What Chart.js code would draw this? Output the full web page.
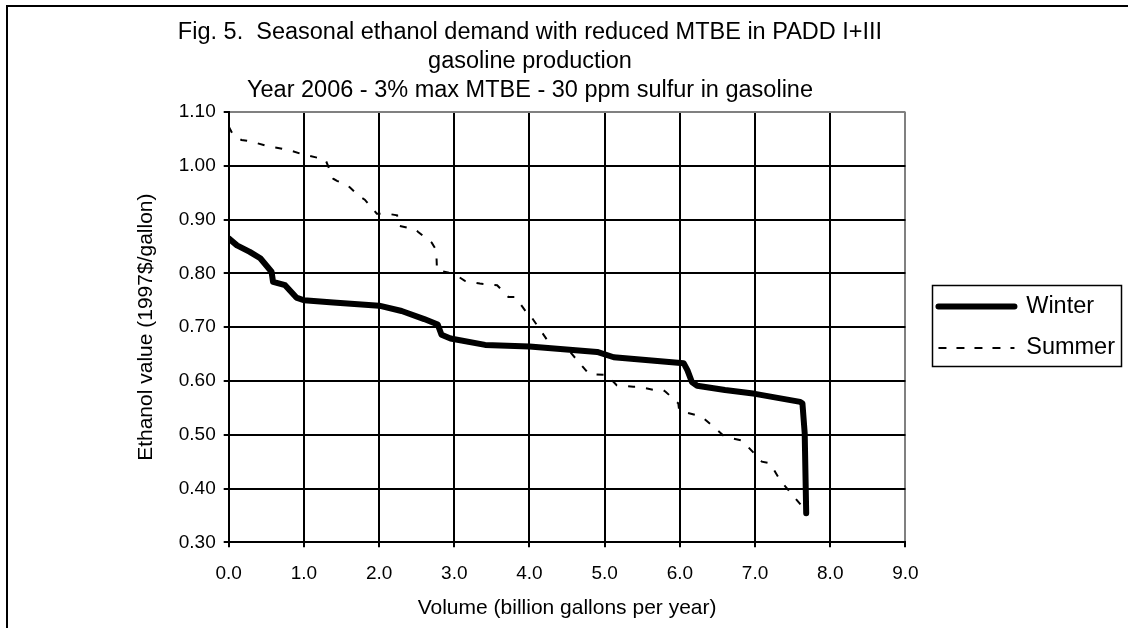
<!DOCTYPE html>
<html lang="en">
<head>
<meta charset="UTF-8">
<title>Seasonal ethanol demand with reduced MTBE</title>
<script src="https://cdn.jsdelivr.net/npm/chart.js"></script>
<style>
  html, body { margin: 0; padding: 0; background: #fff; }
  canvas { display: block; }
</style>
</head>
<body>
<canvas id="chart" width="1128" height="628"></canvas>
<script>
// values (billion gal/yr, 1997$/gal)
const winterVolume = [0, 0.11, 0.28, 0.42, 0.57, 0.59, 0.75, 0.90, 1.0, 1.39, 2.0, 2.3, 2.6, 2.78, 2.83, 2.95, 3.41, 4.0, 4.90, 5.12, 6.05, 6.10, 6.16, 6.23, 6.6, 7.0, 7.60, 7.63, 7.66, 7.68];
const winterValue  = [0.865, 0.852, 0.840, 0.828, 0.803, 0.784, 0.778, 0.755, 0.750, 0.746, 0.740, 0.730, 0.715, 0.705, 0.686, 0.679, 0.667, 0.664, 0.654, 0.644, 0.633, 0.620, 0.598, 0.591, 0.583, 0.576, 0.561, 0.558, 0.503, 0.354];

const summerVolume = [0.0, 0.06, 0.17, 0.28, 0.53, 0.62, 0.81, 0.99, 1.21, 1.28, 1.30, 1.39, 1.44, 1.57, 1.61, 1.75, 1.81, 1.97, 2.15, 2.24, 2.25, 2.40, 2.48, 2.52, 2.70, 2.76, 2.77, 2.93, 2.99, 3.14, 3.34, 3.57, 3.72, 3.81, 3.99, 4.01, 4.30, 4.54, 4.79, 5.03, 5.16, 5.38, 5.45, 5.67, 5.78, 5.81, 5.98, 5.99, 6.23, 6.32, 6.60, 6.83, 7.09, 7.20, 7.33, 7.63, 7.68];
const summerValue  = [1.073, 1.057, 1.048, 1.046, 1.036, 1.034, 1.029, 1.021, 1.014, 1.013, 1.007, 0.976, 0.972, 0.964, 0.960, 0.942, 0.937, 0.911, 0.910, 0.908, 0.889, 0.884, 0.882, 0.877, 0.857, 0.843, 0.806, 0.801, 0.800, 0.786, 0.781, 0.778, 0.756, 0.756, 0.722, 0.722, 0.663, 0.654, 0.613, 0.611, 0.592, 0.589, 0.589, 0.583, 0.583, 0.580, 0.558, 0.545, 0.536, 0.530, 0.496, 0.489, 0.450, 0.447, 0.416, 0.366, 0.355];

const xTickLabels = ['0.0', '1.0', '2.0', '3.0', '4.0', '5.0', '6.0', '7.0', '8.0', '9.0'];
const yTickLabels = ['0.30', '0.40', '0.50', '0.60', '0.70', '0.80', '0.90', '1.00', '1.10'];
const seriesNames = ['Winter', 'Summer'];
const titleLines = [
  'Fig. 5.  Seasonal ethanol demand with reduced MTBE in PADD I+III',
  'gasoline production',
  'Year 2006 - 3% max MTBE - 30 ppm sulfur in gasoline'
];
const xTitle = 'Volume (billion gallons per year)';
const yTitle = 'Ethanol value (1997$/gallon)';

const FONT = "'Liberation Sans', Arial, sans-serif";
const titleMid = 530;   // title sits left of the plot centre in the original

function toPoints(xs, ys) {
  return xs.map((x, i) => ({ x: x, y: ys[i] }));
}

// chart frame, legend box and legend / title placement
const frame = {
  id: 'frame',
  afterLayout(chart) {
    const lg = chart.legend, area = chart.chartArea;
    const w = lg.width;
    lg.left = area.right + 15;
    lg.right = lg.left + w;
    lg.top = area.top;
    lg.bottom = area.bottom;
    const t = chart.titleBlock;
    t.left = 8;
    t.right = 2 * titleMid - 8;
  },
  afterDraw(chart) {
    const ctx = chart.ctx;
    ctx.save();
    ctx.strokeStyle = '#000';
    ctx.lineWidth = 2;
    ctx.beginPath();
    ctx.moveTo(7, chart.height);
    ctx.lineTo(7, 6);
    ctx.lineTo(chart.width, 6);
    ctx.stroke();

    const hb = chart.legend.legendHitBoxes;
    if (hb && hb.length) {
      const l = Math.min(...hb.map(h => h.left)) - 6;
      const r = Math.max(...hb.map(h => h.left + h.width)) + 6;
      const t = hb[0].top - 10;
      const b = hb[hb.length - 1].top + hb[hb.length - 1].height + 6;
      ctx.lineWidth = 1.5;
      ctx.strokeRect(Math.round(l) + 0.5, Math.round(t) + 0.5, Math.round(r - l), Math.round(b - t));
    }
    ctx.restore();
  }
};

const ctx = document.getElementById('chart').getContext('2d');
new Chart(ctx, {
  type: 'line',
  data: {
    datasets: [
      {
        label: seriesNames[0],
        data: toPoints(winterVolume, winterValue),
        borderColor: '#000',
        backgroundColor: '#000',
        borderWidth: 6,
        borderJoinStyle: 'round',
        borderCapStyle: 'round',
        pointRadius: 0,
        tension: 0
      },
      {
        label: seriesNames[1],
        data: toPoints(summerVolume, summerValue),
        borderColor: '#000',
        backgroundColor: '#000',
        borderWidth: 2,
        borderDash: [7, 11],
        pointRadius: 0,
        tension: 0
      }
    ]
  },
  options: {
    responsive: false,
    animation: false,
    devicePixelRatio: 1,
    events: [],
    layout: { padding: { left: 8, right: 18, top: 0, bottom: 0 } },
    plugins: {
      tooltip: { enabled: false },
      title: {
        display: true,
        text: titleLines,
        color: '#000',
        font: { family: FONT, size: 23.5, weight: 'normal', lineHeight: '29px' },
        padding: { top: 18, bottom: 7 }
      },
      legend: {
        display: true,
        position: 'right',
        labels: {
          color: '#000',
          font: { family: FONT, size: 23.5 },
          boxWidth: 76,
          boxHeight: 0,
          padding: 18
        }
      }
    },
    scales: {
      x: {
        type: 'linear',
        min: 0,
        max: 9,
        afterFit(scale) { scale.height = 85.7; },
        ticks: {
          stepSize: 1,
          color: '#000',
          font: { family: FONT, size: 19 },
          padding: 15,
          maxRotation: 0,
          callback: (v, i) => xTickLabels[i]
        },
        grid: {
          color: c => (c.index === xTickLabels.length - 1 ? '#808080' : '#000'),
          tickColor: '#000',
          lineWidth: 2,
          tickLength: 5
        },
        border: { display: true, color: '#000', width: 2 },
        title: {
          display: true,
          text: xTitle,
          color: '#000',
          font: { family: FONT, size: 21 },
          padding: { top: 0, bottom: 7 }
        }
      },
      y: {
        type: 'linear',
        min: 0.3,
        max: 1.1,
        afterFit(scale) { scale.width = 220.7; },
        ticks: {
          stepSize: 0.1,
          color: '#000',
          font: { family: FONT, size: 19 },
          padding: 8,
          callback: (v, i) => yTickLabels[i]
        },
        grid: {
          color: c => (c.index === yTickLabels.length - 1 ? '#808080' : '#000'),
          tickColor: '#000',
          lineWidth: 2,
          tickLength: 5
        },
        border: { display: true, color: '#000', width: 2 },
        title: {
          display: true,
          text: yTitle,
          color: '#000',
          font: { family: FONT, size: 21 },
          padding: { top: 126, bottom: 0 }
        }
      }
    }
  },
  plugins: [frame]
});
</script>
</body>
</html>
